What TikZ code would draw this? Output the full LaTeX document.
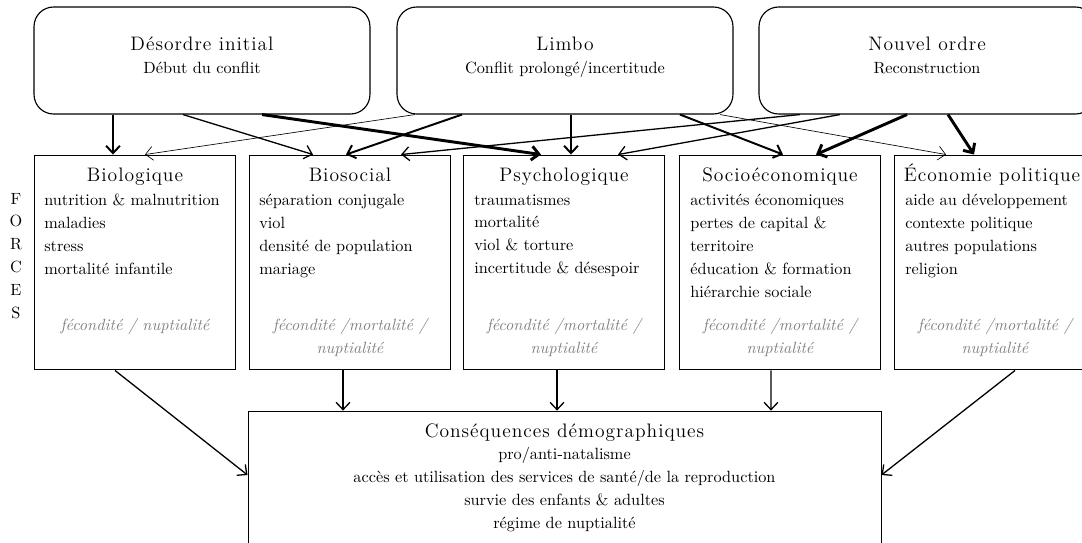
\documentclass[tikz,border=0pt]{standalone}
\usepackage{fontspec}
\newfontfamily\titrefont{lmroman12-regular.otf}[LetterSpace=5]
\usetikzlibrary{calc,arrows.meta}

\begin{document}
\begin{tikzpicture}[x=0.615pt,y=-0.615pt,
  phase/.style={draw,rounded corners=12pt,line width=0.7pt,minimum width=206.6pt,minimum height=65.8pt},
  force/.style={draw,line width=0.6pt,minimum width=124.2pt,minimum height=132.2pt},
  titre/.style={font=\titrefont\large,inner sep=0pt,anchor=base},
  soustitre/.style={inner sep=0pt,anchor=base},
  liste/.style={align=left,font=\fontsize{10pt}{14.1pt}\selectfont,inner sep=0pt,anchor=north west},
  gris/.style={align=center,font=\fontsize{10pt}{14.1pt}\selectfont\itshape,text=black!50,inner sep=0pt,anchor=north},
  fleche/.style={-{Straight Barb[length=4.5pt,width=8.5pt]},line width=0.8pt},
  flechefine/.style={fleche,line width=0.4pt},
  flecheforte/.style={fleche,line width=1.2pt},
  flechelourde/.style={fleche,line width=1.8pt}]
\clip (0,0) rectangle (1082,543);

% phases du conflit
\node[phase] (desordre) at (202,60.5) {};
\node[titre] (desordre-t) at (202,50) {Désordre initial};
\node[soustitre] (desordre-s) at (202,73) {Début du conflit};
\node[phase] (limbo) at (565,60.5) {};
\node[titre] (limbo-t) at (565,50) {Limbo};
\node[soustitre] (limbo-s) at (565,73) {Conflit prolongé/incertitude};
\node[phase] (nouvel) at (927,60.5) {};
\node[titre] (nouvel-t) at (927,50) {Nouvel ordre};
\node[soustitre] (nouvel-s) at (927,73) {Reconstruction};

\node[liste,align=center,anchor=center] (forces) at (16,256) {F\\O\\R\\C\\E\\S};

% forces
\node[force] (bio) at (135,262.5) {};
\node[titre] (bio-t) at (135,181) {Biologique};
\node[liste] (bio-l) at (44,194) {nutrition \& malnutrition\\maladies\\stress\\mortalité infantile};
\node[gris] (bio-g) at (135,318) {fécondité / nuptialité};

\node[force] (biosoc) at (350,262.5) {};
\node[titre] (biosoc-t) at (350,181) {Biosocial};
\node[liste] (biosoc-l) at (259,194) {séparation conjugale\\viol\\densité de population\\mariage};
\node[gris] (biosoc-g) at (350,318) {fécondité /mortalité /\\nuptialité};

\node[force] (psy) at (564,262.5) {};
\node[titre] (psy-t) at (564,181) {Psychologique};
\node[liste] (psy-l) at (474,194) {traumatismes\\mortalité\\viol \& torture\\incertitude \& désespoir};
\node[gris] (psy-g) at (564,318) {fécondité /mortalité /\\nuptialité};

\node[force] (socio) at (780,262.5) {};
\node[titre] (socio-t) at (780,181) {Socioéconomique};
\node[liste] (socio-l) at (690,194) {activités économiques\\pertes de capital \&\\territoire\\éducation \& formation\\hiérarchie sociale};
\node[gris] (socio-g) at (780,318) {fécondité /mortalité /\\nuptialité};

\node[force] (eco) at (995,262.5) {};
\node[titre] (eco-t) at (992,181) {Économie politique};
\node[liste] (eco-l) at (905,194) {aide au développement\\contexte politique\\autres populations\\religion};
\node[gris] (eco-g) at (995,318) {fécondité /mortalité /\\nuptialité};

% consequences
\node[draw,line width=0.6pt,minimum width=389.3pt,minimum height=86pt] (conseq) at (564.5,481) {};
\node[titre] (conseq-t) at (564.5,437) {Conséquences démographiques};
\node[liste,align=center,anchor=north] (conseq-l) at (564.5,447) {pro/anti-natalisme\\accès et utilisation des services de santé/de la reproduction\\survie des enfants \& adultes\\régime de nuptialité};

% phases -> forces
\draw[flecheforte] ($(desordre.south)+(-89,0)$) -- ($(bio.north)+(-22,0)$);
\draw[fleche] ($(desordre.south)+(-19,0)$) -- ($(biosoc.north)+(-37,0)$);
\draw[flechelourde] ($(desordre.south)+(60,0)$) -- ($(psy.north)+(-23,0)$);
\draw[flechefine] ($(limbo.south)+(-150,0)$) -- ($(bio.north)+(10,0)$);
\draw[flecheforte] ($(limbo.south)+(-103,0)$) -- ($(biosoc.north)+(-4,0)$);
\draw[flecheforte] ($(limbo.south)+(6,0)$) -- ($(psy.north)+(7,0)$);
\draw[flecheforte] ($(limbo.south)+(115,0)$) -- ($(socio.north)+(3,0)$);
\draw[flechefine] ($(limbo.south)+(155,0)$) -- ($(eco.north)+(-49,0)$);
\draw[fleche] ($(nouvel.south)+(-127,0)$) -- ($(biosoc.north)+(51,0)$);
\draw[fleche] ($(nouvel.south)+(-87,0)$) -- ($(psy.north)+(54,0)$);
\draw[flechelourde] ($(nouvel.south)+(-20,0)$) -- ($(socio.north)+(36,0)$);
\draw[flechelourde] ($(nouvel.south)+(21,0)$) -- ($(eco.north)+(-21,0)$);

% forces -> consequences
\draw[fleche] ($(bio.south)+(-20,0)$) -- ($(conseq.west)+(0,-6)$);
\draw[fleche] ($(biosoc.south)+(-7,0)$) -- ($(conseq.north)+(-221.5,0)$);
\draw[fleche] ($(psy.south)+(-7,0)$) -- ($(conseq.north)+(-7.5,0)$);
\draw[fleche] ($(socio.south)+(-9,0)$) -- ($(conseq.north)+(206.5,0)$);
\draw[fleche] ($(eco.south)+(20,0)$) -- ($(conseq.east)+(0,-6)$);
\end{tikzpicture}
\end{document}
